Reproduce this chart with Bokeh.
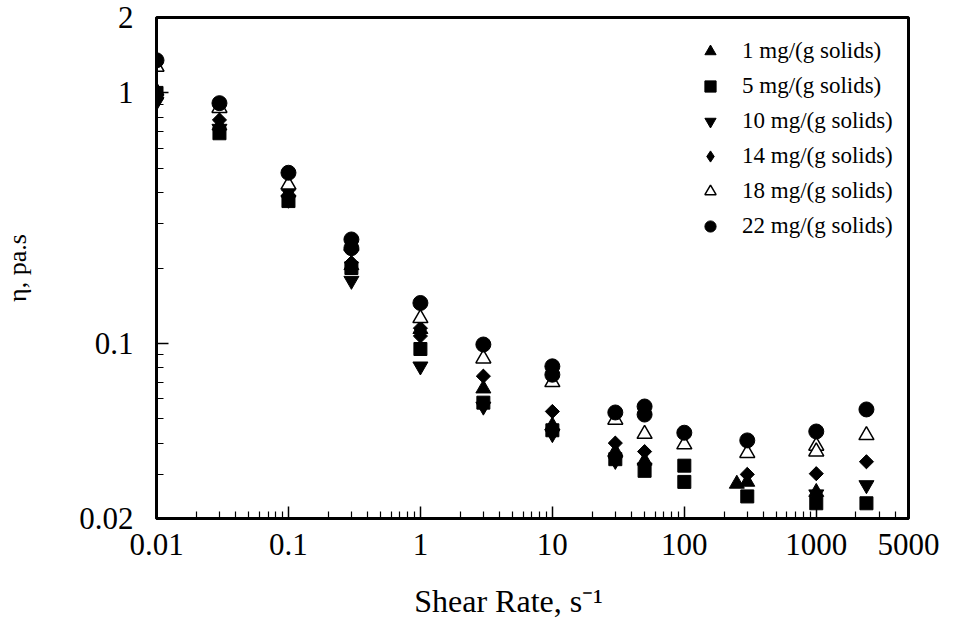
import math
from bokeh.plotting import figure
from bokeh.models import FixedTicker, Legend, LegendItem
from bokeh.embed import file_html
from bokeh.resources import INLINE

# ---- data ----
x_1mg = [0.01, 0.03, 0.1, 0.3, 1, 3, 10, 30, 50, 250, 300, 1000]
y_1mg = [1.02, 0.74, 0.40, 0.205, 0.114, 0.066, 0.047, 0.037, 0.034, 0.0275, 0.028, 0.0255]

x_5mg = [0.01, 0.03, 0.1, 0.3, 1, 3, 10, 30, 50, 100, 100, 300, 1000, 2400]
y_5mg = [1.0, 0.69, 0.37, 0.20, 0.095, 0.058, 0.045, 0.0345, 0.031, 0.0325, 0.028, 0.0245, 0.023, 0.023]

x_10mg = [0.01, 0.03, 0.1, 0.3, 1, 3, 10, 30, 50, 1000, 2400]
y_10mg = [0.92, 0.72, 0.375, 0.178, 0.081, 0.056, 0.0435, 0.034, 0.032, 0.025, 0.0272]

x_14mg = [0.01, 0.03, 0.1, 0.3, 1, 1, 3, 10, 30, 50, 300, 1000, 2400]
y_14mg = [0.98, 0.78, 0.41, 0.21, 0.115, 0.107, 0.074, 0.0535, 0.040, 0.037, 0.030, 0.0302, 0.0337]

x_18mg = [0.01, 0.03, 0.1, 0.3, 1, 3, 10, 30, 50, 100, 300, 1000, 1000, 2400]
y_18mg = [1.27, 0.87, 0.43, 0.245, 0.126, 0.087, 0.07, 0.0495, 0.0435, 0.0395, 0.0365, 0.039, 0.037, 0.043]

x_22mg = [0.01, 0.03, 0.1, 0.3, 0.3, 1, 3, 10, 10, 30, 50, 50, 100, 300, 1000, 2400]
y_22mg = [1.35, 0.91, 0.48, 0.26, 0.24, 0.145, 0.099, 0.081, 0.075, 0.053, 0.056, 0.052, 0.044, 0.041, 0.0445, 0.0545]

labels = ["1 mg/(g solids)", "5 mg/(g solids)", "10 mg/(g solids)",
          "14 mg/(g solids)", "18 mg/(g solids)", "22 mg/(g solids)"]

x_ticks = [0.01, 0.1, 1, 10, 100, 1000, 5000]
x_tick_labels = ["0.01", "0.1", "1", "10", "100", "1000", "5000"]
y_ticks = [0.02, 0.1, 1, 2]
y_tick_labels = ["0.02", "0.1", "1", "2"]

x_minor = [m * 10.0 ** e for e in range(-2, 3) for m in range(2, 10)] + [2000, 3000, 4000]
y_minor = [m * 10.0 ** e for e in (-2, -1) for m in range(3 if e == -2 else 2, 10)]

FONT = "Liberation Serif"

p = figure(width=945, height=624, x_axis_type="log", y_axis_type="log",
           x_range=(0.01, 5000), y_range=(0.02, 2),
           output_backend="svg", toolbar_location=None,
           min_border_left=153, min_border_right=37,
           min_border_top=17, min_border_bottom=106)
p.grid.visible = False
p.background_fill_color = "white"
p.border_fill_color = "white"
p.outline_line_color = "black"
p.outline_line_width = 3

p.xaxis.ticker = FixedTicker(ticks=x_ticks, minor_ticks=x_minor)
p.yaxis.ticker = FixedTicker(ticks=y_ticks, minor_ticks=y_minor)
p.xaxis.major_label_overrides = dict(zip(x_ticks, x_tick_labels))
p.yaxis.major_label_overrides = dict(zip(y_ticks, y_tick_labels))

for ax in (p.xaxis[0], p.yaxis[0]):
    ax.axis_line_width = 3
    ax.axis_line_color = "black"
    ax.major_tick_in = 12
    ax.major_tick_out = 0
    ax.minor_tick_in = 7
    ax.minor_tick_out = 0
    ax.major_tick_line_width = 1.5
    ax.minor_tick_line_width = 1.2
    ax.major_label_text_font = FONT
    ax.major_label_text_font_size = "31px"
    ax.major_label_text_color = "black"
    ax.axis_label_text_font = FONT
    ax.axis_label_text_font_style = "normal"
    ax.axis_label_text_color = "black"

# trailing no-break spaces shift the visible label left, as in the reference
p.xaxis.axis_label = "Shear Rate, s\u207b\u00b9" + "\u00a0" * 6
p.xaxis.axis_label_text_font_size = "32px"
p.xaxis.major_label_standoff = 15
p.xaxis.axis_label_standoff = 25

p.yaxis.axis_label = "\u03b7, pa.s"
p.yaxis.axis_label_text_font_size = "26px"
p.yaxis.major_label_standoff = 23
p.yaxis.axis_label_standoff = 44

r1 = p.scatter(x_1mg, y_1mg, marker="triangle", size=15, color="black")
r2 = p.scatter(x_5mg, y_5mg, marker="square", size=13, color="black")
r3 = p.scatter(x_10mg, y_10mg, marker="inverted_triangle", size=15, color="black")
# diamond key glyph (hidden under the rotated squares; used for the legend)
r4_key = p.scatter(x_14mg, y_14mg, marker="diamond", size=13, color="black")
r4 = p.scatter(x_14mg, y_14mg, marker="square", angle=math.pi / 4, size=10, color="black")
r5 = p.scatter(x_18mg, y_18mg, marker="triangle", size=15, fill_color="white",
               line_color="black", line_width=1.5)
r6 = p.scatter(x_22mg, y_22mg, marker="circle", size=15, color="black")

legend = Legend(items=[LegendItem(label=l, renderers=[r]) for l, r in
                       zip(labels, [r1, r2, r3, r4_key, r5, r6])],
                location=(540, 278), orientation="vertical")
legend.border_line_color = None
legend.background_fill_alpha = 0
legend.label_text_font = FONT
legend.label_text_font_size = "23px"
legend.label_text_color = "black"
legend.glyph_width = 28
legend.glyph_height = 28
legend.label_height = 28
legend.spacing = 7
legend.padding = 4
legend.label_standoff = 18
legend.margin = 0
p.add_layout(legend, "center")

open("out.html", "w").write(file_html(p, INLINE))
